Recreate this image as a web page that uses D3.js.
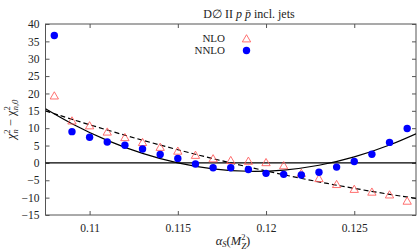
<!DOCTYPE html>
<html>
<head>
<meta charset="utf-8">
<script src="https://cdn.jsdelivr.net/npm/d3@7"></script>
<style>
  body { margin: 0; background: #fff; }
  text { font-family: "Liberation Serif", "DejaVu Serif", serif; fill: #222; }
</style>
</head>
<body>
<div id="chart"></div>
<script>
// alpha_s values of the scan
const alphas = [0.108, 0.109, 0.110, 0.111, 0.112, 0.113, 0.114, 0.115, 0.116, 0.117, 0.118,
                0.119, 0.120, 0.121, 0.122, 0.123, 0.124, 0.125, 0.126, 0.127, 0.128];
const nlo  = [19.1, 11.9, 10.5, 8.7, 7.1, 5.7, 4.3, 3.2, 2.0, 1.0, 0.5,
              0.3, -0.1, -1.0, -3.2, -4.7, -6.4, -7.8, -8.6, -9.4, -11.2];
const nnlo = [36.7, 9.0, 7.4, 6.0, 5.1, 4.0, 2.4, 1.3, -0.3, -1.4, -1.4,
              -1.9, -3.0, -3.3, -3.5, -2.7, -1.2, 0.4, 2.5, 5.9, 9.9];
// fitted curves
const curveX    = [0.1075, 0.109, 0.111, 0.113, 0.115, 0.117, 0.119, 0.121, 0.123, 0.125, 0.127, 0.1285];
const nnloCurve = [15.6, 11.3, 6.5, 2.75, 0.0, -1.7, -2.4, -2.05, -0.67, 1.73, 5.17, 8.4];
const nloCurve  = [15.0, 12.56, 9.47, 6.54, 3.8, 1.22, -1.18, -3.4, -5.46, -7.33, -9.04, -10.2];
const xTicks = [0.11, 0.115, 0.12, 0.125];
const yTicks = [-15, -10, -5, 0, 5, 10, 15, 20, 25, 30, 35, 40];

const W = 417, H = 251;
const margin = {top: 24, right: 1, bottom: 36, left: 45.5};
const width = W - margin.left - margin.right,
      height = H - margin.top - margin.bottom;

const svg = d3.select("#chart").append("svg")
    .attr("width", W).attr("height", H)
  .append("g")
    .attr("transform", "translate(" + margin.left + "," + margin.top + ")");

let x = d3.scaleLinear().domain([0.1075, 0.1285]).range([0, width]);
let y = d3.scaleLinear().domain([-15, 40]).range([height, 0]);

svg.append("clipPath").attr("id", "clip")
  .append("rect").attr("width", width).attr("height", height);

// axes, ticks pointing inward on all four sides
const axisStyle = g => {
  g.attr("font-family", null);
  g.select(".domain").remove();
  g.selectAll(".tick line").attr("stroke", "#555");
  g.selectAll(".tick text")
    .style("font-family", "'Liberation Serif', 'DejaVu Serif', serif")
    .style("font-size", "11.5px").attr("fill", "#222");
};
svg.append("g").attr("transform", `translate(0,${height})`)
  .call(d3.axisBottom(x).tickValues(xTicks).tickSize(-4).tickPadding(9).tickFormat(d3.format("")))
  .call(axisStyle);
svg.append("g")
  .call(d3.axisTop(x).tickValues(xTicks).tickSize(-4).tickFormat(""))
  .call(axisStyle);
svg.append("g")
  .call(d3.axisLeft(y).tickValues(yTicks).tickSize(-4).tickPadding(6))
  .call(axisStyle);
svg.append("g").attr("transform", `translate(${width},0)`)
  .call(d3.axisRight(y).tickValues(yTicks).tickSize(-4).tickFormat(""))
  .call(axisStyle);

svg.append("rect")
  .attr("width", width).attr("height", height)
  .attr("fill", "none").attr("stroke", "#555").attr("stroke-width", 1);

// zero line
svg.append("line")
  .attr("x1", 0).attr("x2", width)
  .attr("y1", y(0)).attr("y2", y(0))
  .attr("stroke", "#000").attr("stroke-width", 1.1);

const line = d3.line()
  .x(d => x(d[0])).y(d => y(d[1]))
  .curve(d3.curveNatural);

svg.append("path")
  .datum(curveX.map((v, i) => [v, nloCurve[i]]))
  .attr("clip-path", "url(#clip)")
  .attr("fill", "none").attr("stroke", "#000").attr("stroke-width", 1.2)
  .attr("stroke-dasharray", "5,3")
  .attr("d", line);

svg.append("path")
  .datum(curveX.map((v, i) => [v, nnloCurve[i]]))
  .attr("clip-path", "url(#clip)")
  .attr("fill", "none").attr("stroke", "#000").attr("stroke-width", 1.2)
  .attr("d", line);

// points
const tri = d3.symbol(d3.symbolTriangle, 30);
svg.append("g").selectAll("path")
  .data(alphas.map((v, i) => [v, nlo[i]]))
  .enter().append("path")
    .attr("transform", d => `translate(${x(d[0])},${y(d[1])})`)
    .attr("d", tri)
    .attr("fill", "none").attr("stroke", "#ff6060").attr("stroke-width", 0.9);

svg.append("g").selectAll("circle")
  .data(alphas.map((v, i) => [v, nnlo[i]]))
  .enter().append("circle")
    .attr("cx", d => x(d[0])).attr("cy", d => y(d[1]))
    .attr("r", 3.7).attr("fill", "#0000ff");

// legend
const legend = svg.append("g").attr("transform", `translate(${225 - margin.left},0)`);
legend.append("text").attr("x", 0).attr("y", 42 - margin.top)
  .attr("text-anchor", "end").style("font-size", "11px").text("NLO");
legend.append("text").attr("x", 0).attr("y", 53.5 - margin.top)
  .attr("text-anchor", "end").style("font-size", "11px").text("NNLO");
legend.append("path")
  .attr("transform", `translate(21.5,${39.5 - margin.top})`)
  .attr("d", tri).attr("fill", "none").attr("stroke", "#ff6060").attr("stroke-width", 0.9);
legend.append("circle").attr("cx", 21.5).attr("cy", 50.5 - margin.top).attr("r", 3.7).attr("fill", "#0000ff");

// title
const title = svg.append("text")
  .attr("x", 249 - margin.left).attr("y", 17.5 - margin.top)
  .attr("text-anchor", "middle").style("font-size", "12px");
title.append("tspan").text("D\u2205 II ");
title.append("tspan").style("font-style", "italic").text("p p\u0304");
title.append("tspan").text(" incl. jets");

// x label
const xl = svg.append("text")
  .attr("x", 233 - margin.left).attr("y", 245 - margin.top)
  .attr("text-anchor", "middle").style("font-size", "12.5px");
xl.append("tspan").style("font-style", "italic").text("\u03b1");
xl.append("tspan").style("font-style", "italic").style("font-size", "8.5px").attr("dy", 2).text("S");
xl.append("tspan").attr("dy", -2).text("(");
xl.append("tspan").style("font-style", "italic").text("M");
xl.append("tspan").style("font-size", "8.5px").attr("dy", -5).text("2");
xl.append("tspan").style("font-style", "italic").style("font-size", "8.5px").attr("dx", -4).attr("dy", 9).text("Z");
xl.append("tspan").attr("dy", -4).text(")");

// y label
const yl = svg.append("text")
  .attr("transform", `translate(${15 - margin.left},${height / 2}) rotate(-90)`)
  .attr("text-anchor", "middle").style("font-size", "12.5px");
yl.append("tspan").style("font-style", "italic").text("\u03c7");
yl.append("tspan").style("font-size", "8.5px").attr("dy", -5).text("2");
yl.append("tspan").style("font-style", "italic").style("font-size", "8.5px").attr("dx", -4).attr("dy", 8).text("n");
yl.append("tspan").attr("dy", -3).text(" \u2212 \u03c7");
yl.append("tspan").style("font-size", "8.5px").attr("dy", -5).text("2");
yl.append("tspan").style("font-style", "italic").style("font-size", "8.5px").attr("dx", -4).attr("dy", 8).text("n,0");
</script>
</body>
</html>
